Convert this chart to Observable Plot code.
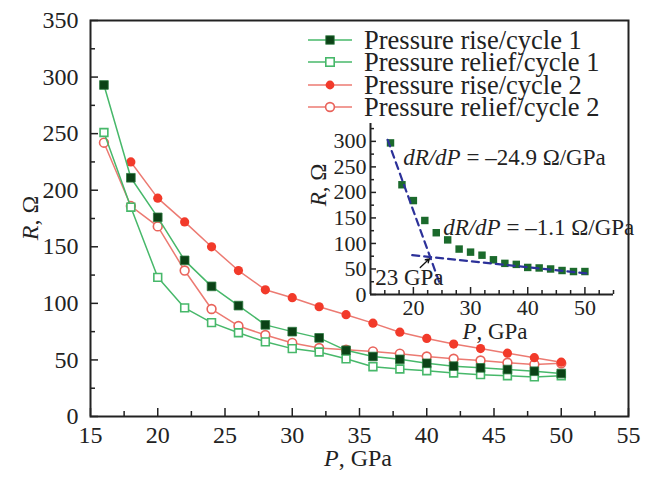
<!DOCTYPE html>
<html><head><meta charset="utf-8">
<script src="https://cdn.jsdelivr.net/npm/d3@7"></script>
<script src="https://cdn.jsdelivr.net/npm/@observablehq/plot@0.6"></script>
<style>
body{margin:0;background:#fff}
#wrap{position:relative;width:645px;height:479px}
#wrap svg{overflow:visible}
#inset{position:absolute;left:300px;top:110px}
</style>
</head><body><div id="wrap"></div>
<script>
// ---- data ----
const P = [16,18,20,22,24,26,28,30,32,34,36,38,40,42,44,46,48,50];
const riseC1   = [293,211,176,138,115,98,81,75,69.5,58.5,53,50.5,47,44.5,43,41.5,40,38];
const reliefC1 = [251,185,123,96,83,74,66,60,57,51,44,42,40.5,38.5,37,36,35,36];
const riseC2   = [null,225,193,172,150,129,112,105,97,90,82.5,74.5,69,64,60,56,52,48];
const reliefC2 = [242,186,168,129,95,80,72,65,60.5,59,57.5,55.5,53,51,49.5,47.5,46,47];
const insetR   = [297,215,184,145,121,107,89,83,77,68,61,59,53,52,50,47,45,45];
const seriesNames = ["Pressure rise/cycle 1","Pressure relief/cycle 1","Pressure rise/cycle 2","Pressure relief/cycle 2"];
const xMajor = [15,20,25,30,35,40,45,50,55];
const xMinor = [17.5,22.5,27.5,32.5,37.5,42.5,47.5,52.5];
const yMajor = [0,50,100,150,200,250,300,350];
const yMinor = [25,75,125,175,225,275,325];
const insetXMajor = [20,30,40,50];
const insetXMinor = [15,17.5,22.5,25,27.5,32.5,35,37.5,42.5,45,47.5,52.5,55];
const insetYMajor = [0,50,100,150,200,250,300];
const insetYMinor = [25,75,125,175,225,275,325];
const fitSteep = [{P:15.5,R:303},{P:24.6,R:22}];
const fitFlat  = [{P:19.8,R:77},{P:50.5,R:41}];
const kneeArrow = [{P1:21.2,R1:53,P2:22.8,R2:70}];
const slopeLabels = [{P:18.3,R:268,value:"–24.9"},{P:25.3,R:131,value:"–1.1"}];
const kneeLabel = {P:13.4,R:34,text:"23 GPa"};

// ---- styles ----
const font = '"Liberation Serif","Times New Roman",serif';
const ink = "#222";
const greenLine = "#47b86a", darkFill = "#0b4216";
const redLine = "#ec7a72", redFill = "#f23a2a", redOpen = "#e9635b";
const navy = "#2c3199", insetGreen = "#1b6a2c";

const rows = P.map((p,i)=>({P:p, r1:riseC1[i], f1:reliefC1[i], r2:riseC2[i], f2:reliefC2[i]}));
const def = k => rows.filter(d => d[k] != null);

const main = Plot.plot({
  width: 645, height: 479,
  marginLeft: 90, marginRight: 17, marginTop: 20, marginBottom: 63,
  x: {domain: [15,55]}, y: {domain: [0,350]},
  style: {fontFamily: font, fontSize: "24px", color: ink, background: "transparent"},
  marks: [
    Plot.axisX(xMajor, {tickSize: -8, tickPadding: 17, label: null, strokeWidth: 1.5, fontSize: 24}),
    Plot.axisX(xMinor, {tickSize: -5, tickFormat: () => "", label: null, strokeWidth: 1.5}),
    Plot.axisY(yMajor, {tickSize: -8, tickPadding: 20, label: null, strokeWidth: 1.5, fontSize: 24}),
    Plot.axisY(yMinor, {tickSize: -5, tickFormat: () => "", label: null, strokeWidth: 1.5}),
    Plot.line(def("f2"), {x: "P", y: "f2", stroke: redLine, strokeWidth: 1.5}),
    Plot.dot(def("f2"), {x: "P", y: "f2", r: 4.4, fill: "white", stroke: redOpen, strokeWidth: 1.6}),
    Plot.line(def("r2"), {x: "P", y: "r2", stroke: redLine, strokeWidth: 1.5}),
    Plot.dot(def("r2"), {x: "P", y: "r2", r: 4.6, fill: redFill}),
    Plot.line(def("f1"), {x: "P", y: "f1", stroke: greenLine, strokeWidth: 1.5}),
    Plot.dot(def("f1"), {x: "P", y: "f1", symbol: "square", r: 4.4, fill: "white", stroke: greenLine, strokeWidth: 1.6}),
    Plot.line(def("r1"), {x: "P", y: "r1", stroke: greenLine, strokeWidth: 1.5}),
    Plot.dot(def("r1"), {x: "P", y: "r1", symbol: "square", r: 4.9, fill: darkFill, stroke: "#2d7a40", strokeWidth: 0.8}),
    Plot.frame({stroke: ink, strokeWidth: 2})
  ]
});
document.getElementById("wrap").appendChild(main);

const ms = d3.select(main);
// axis titles
const xt = ms.append("text").attr("x", 358).attr("y", 458).attr("dy","0.35em")
  .attr("text-anchor","middle").attr("font-family",font).attr("font-size",24).attr("fill",ink);
xt.append("tspan").attr("font-style","italic").text("P");
xt.append("tspan").text(", GPa");
const yt = ms.append("text").attr("transform","translate(30,218) rotate(-90)").attr("dy","0.35em")
  .attr("text-anchor","middle").attr("font-family",font).attr("font-size",24).attr("fill",ink);
yt.append("tspan").attr("font-style","italic").text("R");
yt.append("tspan").text(", Ω");

// legend
const legendStyle = [
  {line: greenLine, shape: "square", fill: darkFill, stroke: "#2d7a40", sw: 0.8},
  {line: greenLine, shape: "square", fill: "white", stroke: greenLine, sw: 1.6},
  {line: redLine, shape: "circle", fill: redFill, stroke: "none", sw: 0},
  {line: redLine, shape: "circle", fill: "white", stroke: redOpen, sw: 1.6}
];
const lg = ms.append("g");
const legY = [40, 62, 85, 107];
seriesNames.forEach((name, i) => {
  const s = legendStyle[i], y = legY[i];
  lg.append("line").attr("x1",308).attr("x2",352).attr("y1",y).attr("y2",y).attr("stroke",s.line).attr("stroke-width",1.5);
  if (s.shape === "square") {
    lg.append("rect").attr("x",330-4.2).attr("y",y-4.2).attr("width",8.4).attr("height",8.4)
      .attr("fill",s.fill).attr("stroke",s.stroke).attr("stroke-width",s.sw);
  } else {
    lg.append("circle").attr("cx",330).attr("cy",y).attr("r",4.4)
      .attr("fill",s.fill).attr("stroke",s.stroke).attr("stroke-width",s.sw);
  }
  lg.append("text").attr("x",364).attr("y",y).attr("dy","0.33em").attr("text-anchor","start")
    .attr("font-family",font).attr("font-size",26.5).attr("fill",ink).text(name);
});

// ---- inset ----
const insetRows = P.map((p,i)=>({P:p, R:insetR[i]}));
const inset = Plot.plot({
  width: 330, height: 240,
  marginLeft: 70, marginRight: 17, marginTop: 13, marginBottom: 56,
  x: {domain: [12.5,55]}, y: {domain: [0,335]},
  style: {fontFamily: font, fontSize: "22px", color: ink, background: "transparent"},
  marks: [
    Plot.axisX(insetXMajor, {tickSize: -7, tickPadding: 12, label: null, strokeWidth: 1.5, fontSize: 22}),
    Plot.axisX(insetXMinor, {tickSize: -4, tickFormat: () => "", label: null, strokeWidth: 1.5}),
    Plot.axisY(insetYMajor, {tickSize: -6, tickPadding: 10, label: null, strokeWidth: 1.5, fontSize: 22}),
    Plot.axisY(insetYMinor, {tickSize: -4, tickFormat: () => "", label: null, strokeWidth: 1.5}),
    Plot.ruleY([0], {stroke: ink, strokeWidth: 2}),
    Plot.ruleX([12.5], {stroke: ink, strokeWidth: 2}),
    Plot.dot(insetRows, {x: "P", y: "R", symbol: "square", r: 4.2, fill: insetGreen}),
    Plot.line(fitSteep, {x: "P", y: "R", stroke: navy, strokeWidth: 2.2, strokeDasharray: "7,5"}),
    Plot.line(fitFlat, {x: "P", y: "R", stroke: navy, strokeWidth: 2.2, strokeDasharray: "7,5"}),
    Plot.arrow(kneeArrow, {x1: "P1", y1: "R1", x2: "P2", y2: "R2", stroke: "#111", strokeWidth: 1.3, headLength: 7})
  ]
});
inset.id = "inset";
document.getElementById("wrap").appendChild(inset);

const is = d3.select(inset);
const sx = inset.scale("x"), sy = inset.scale("y");
slopeLabels.forEach(d => {
  const t = is.append("text").attr("x", sx.apply(d.P)).attr("y", sy.apply(d.R)).attr("dy","0.35em")
    .attr("text-anchor","start").attr("font-family",font).attr("font-size",23).attr("fill",ink);
  t.append("tspan").attr("font-style","italic").text("dR/dP");
  t.append("tspan").text(" = " + d.value + " Ω/GPa");
});
is.append("text").attr("x", sx.apply(kneeLabel.P)).attr("y", sy.apply(kneeLabel.R)).attr("dy","0.35em")
  .attr("text-anchor","start").attr("font-family",font).attr("font-size",23).attr("fill",ink).text(kneeLabel.text);
const ixt = is.append("text").attr("x", 195).attr("y", 221).attr("dy","0.35em")
  .attr("text-anchor","middle").attr("font-family",font).attr("font-size",23).attr("fill",ink);
ixt.append("tspan").attr("font-style","italic").text("P");
ixt.append("tspan").text(", GPa");
const iyt = is.append("text").attr("transform","translate(18,75) rotate(-90)").attr("dy","0.35em")
  .attr("text-anchor","middle").attr("font-family",font).attr("font-size",23).attr("fill",ink);
iyt.append("tspan").attr("font-style","italic").text("R");
iyt.append("tspan").text(", Ω");
</script></body></html>
